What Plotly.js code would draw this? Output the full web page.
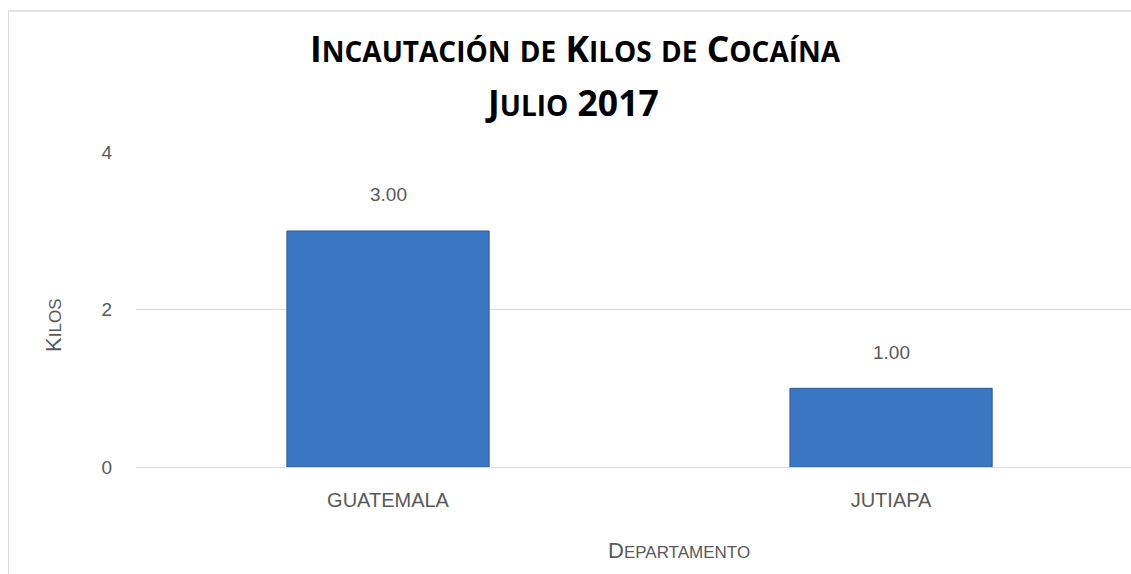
<!DOCTYPE html>
<html>
<head>
<meta charset="utf-8">
<script src="https://cdn.plot.ly/plotly-3.0.1.min.js"></script>
<style>
html,body{margin:0;padding:0;background:#fff;}
#wrap{position:relative;width:1131px;height:574px;}
#chart{position:absolute;left:0;top:0;width:1131px;height:574px;}
#frame{position:absolute;left:8px;top:10px;right:-2px;bottom:-2px;border-left:1px solid #d9d9d9;border-top:2px solid #e3e3e3;pointer-events:none;}
</style>
</head>
<body>
<div id="wrap"><div id="chart"></div><div id="frame"></div></div>
<script>
const categories = ["GUATEMALA", "JUTIAPA"];
const kilos = [3.00, 1.00];
const yTicks = [0, 2, 4];

const SMALL = 28;
const sc = (big, small) => big + "<span style='font-size:" + SMALL + "px'>" + small + "</span>";
const sm = (t) => "<span style='font-size:" + SMALL + "px'>" + t + "</span>";
const titleLine1 = sc("I","NCAUTACIÓN") + " " + sm("DE") + " " + sc("K","ILOS") + " " + sm("DE") + " " + sc("C","OCAÍNA");
const titleLine2 = sc("J","ULIO") + " 2017";
const titleFont = {family: "Open Sans", size: 35.5, color: "#000", weight: "bold"};

const labelFont = {family: "Liberation Sans", size: 19, color: "#595959"};
const xTickFont = {family: "Liberation Sans", size: 20, color: "#595959"};

const trace = {
  type: "bar",
  x: categories,
  y: kilos,
  width: 0.402,
  marker: {color: "#3b76c2", line: {color: "#2a5a96", width: 1}},
  hoverinfo: "x+y"
};

const valueLabels = categories.map((c, i) => ({
  x: c, y: kilos[i], xref: "x", yref: "y",
  text: kilos[i].toFixed(2), showarrow: false, yshift: 36,
  font: labelFont
}));

const layout = {
  width: 1131, height: 574,
  paper_bgcolor: "rgba(0,0,0,0)", plot_bgcolor: "rgba(0,0,0,0)",
  margin: {l: 136, r: 0, t: 152, b: 107},
  showlegend: false,
  title: {text: titleLine1, x: 0.5084, xanchor: "center", y: 0.913, yanchor: "middle",
          font: titleFont},
  xaxis: {
    range: [-0.501, 1.477], type: "category",
    showgrid: false, zeroline: false, showline: false,
    ticks: "", tickfont: xTickFont, ticklabelstandoff: 19
  },
  yaxis: {
    range: [0, 4.004], tickvals: yTicks, ticktext: yTicks.map(String),
    showgrid: true, gridcolor: "#d9d9d9", gridwidth: 1,
    zeroline: true, zerolinecolor: "#d9d9d9", zerolinewidth: 1,
    showline: false, ticks: "", tickfont: labelFont, ticklabelstandoff: 23
  },
  annotations: valueLabels.concat([
    {xref: "paper", yref: "paper", x: 0.438, y: 1.0, xanchor: "center", yanchor: "middle",
     text: titleLine2, showarrow: false, font: titleFont, yshift: 50},
    {xref: "paper", yref: "paper", x: 0.5457, y: 0, xanchor: "center", yanchor: "middle",
     text: "D<span style='font-size:17px'>EPARTAMENTO</span>", showarrow: false, yshift: -83,
     font: {family: "Liberation Sans", size: 22, color: "#595959"}},
    {xref: "paper", yref: "paper", x: 0, y: 0.448, xanchor: "center", yanchor: "middle",
     text: "K<span style='font-size:17px'>ILOS</span>", showarrow: false, textangle: -90, xshift: -82,
     font: {family: "Liberation Sans", size: 22, color: "#595959"}}
  ])
};

Plotly.newPlot("chart", [trace], layout, {displayModeBar: false, staticPlot: true});
</script>
</body>
</html>
